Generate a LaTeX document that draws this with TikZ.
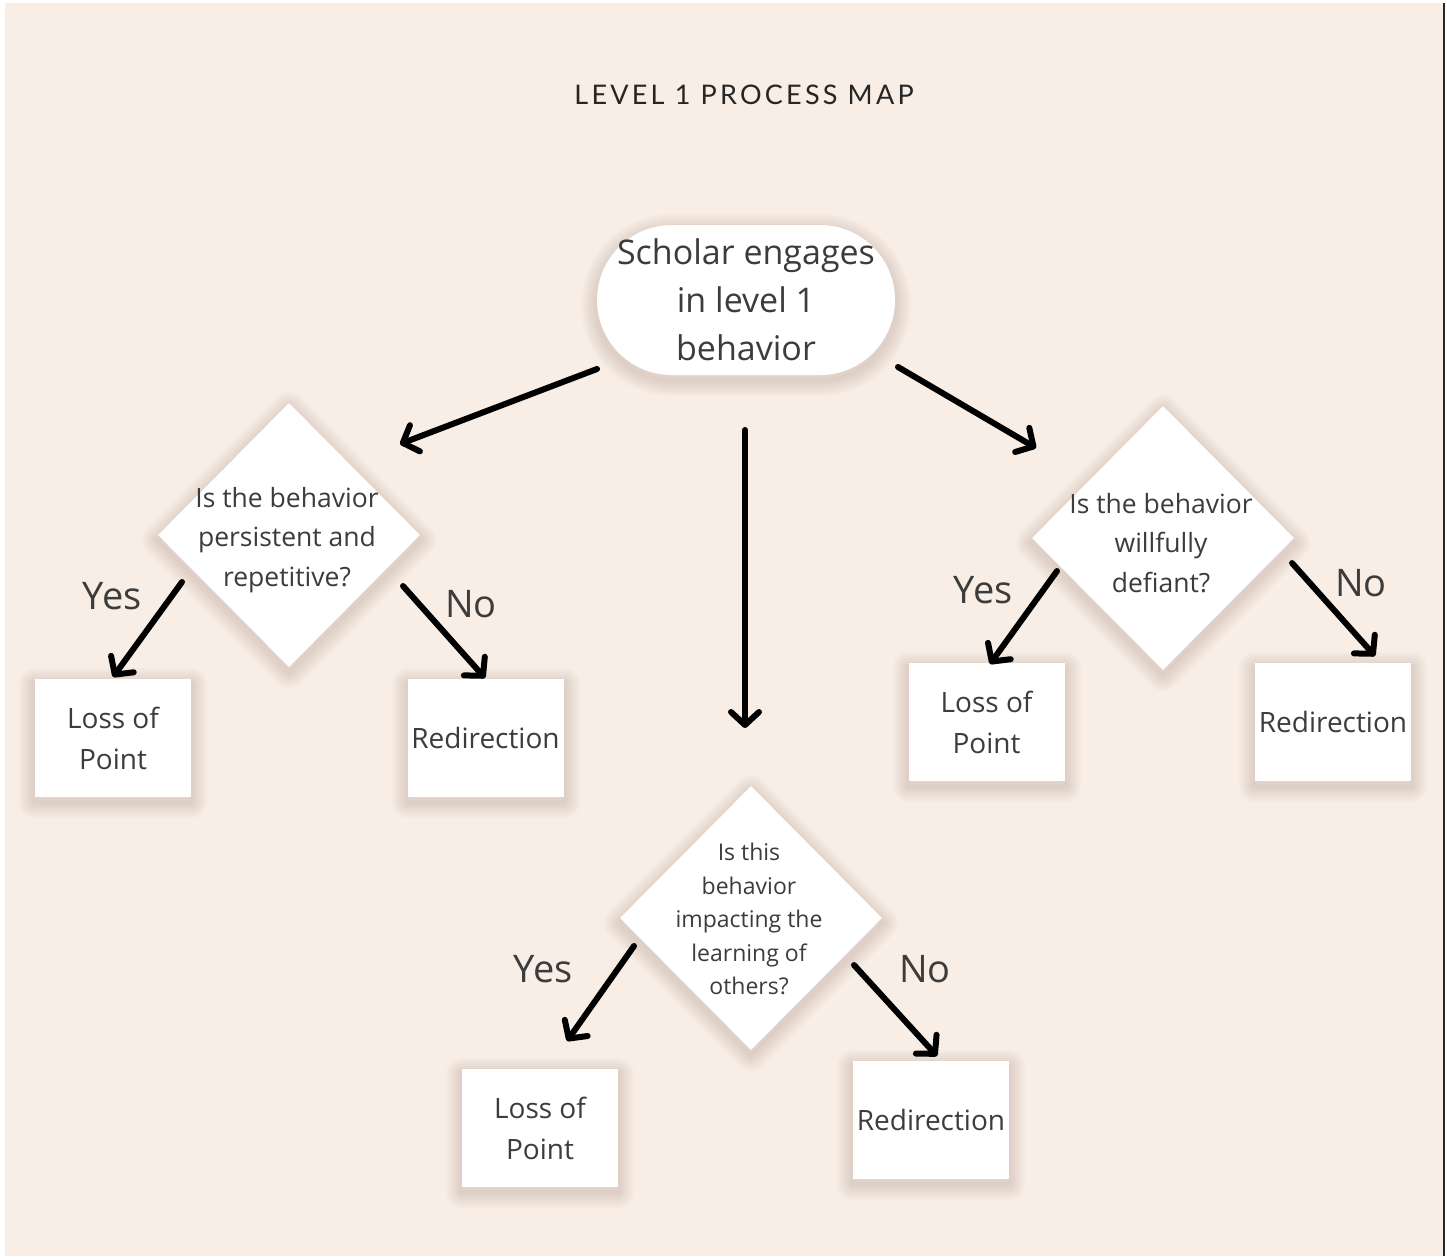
\documentclass[tikz,border=0pt]{standalone}
\usepackage{fontspec}
\setmainfont{Open Sans}
\newfontfamily\titlefont[LetterSpace=12]{Lato}
\usetikzlibrary{shapes.geometric,arrows.meta}
\definecolor{bgbeige}{HTML}{F8EEE5}
\definecolor{txt}{HTML}{3C3C3C}
\definecolor{shadc}{HTML}{5A4030}
\tikzset{
  sl/.style={preaction={draw=shadc,line join=round,line width=#1,draw opacity=0.02,transform canvas={yshift=-5pt}}},
  shad/.style={sl=32pt,sl=28pt,sl=24pt,sl=20pt,sl=16pt,sl=12pt,sl=8pt,sl=4pt},
  term/.style={shape=rectangle,rounded corners=75pt,fill=white,minimum width=298pt,minimum height=150pt,inner sep=0pt,shad,align=center,text=txt,font=\fontsize{34}{48}\selectfont},
  decis/.style={shape=diamond,fill=white,minimum width=262pt,minimum height=264pt,inner sep=0pt,shad},
  qtext/.style={align=center,text=txt,inner sep=0pt,font=\fontsize{26.5}{39.5}\selectfont},
  qtextsm/.style={align=center,text=txt,inner sep=0pt,font=\fontsize{23}{33.5}\selectfont},
  outbox/.style={shape=rectangle,fill=white,minimum width=156pt,minimum height=118pt,inner sep=0pt,shad,align=center,text=txt,font=\fontsize{28}{41}\selectfont},
  yn/.style={text=txt,inner sep=0pt,font=\fontsize{38}{44}\selectfont},
  arr/.style={line width=6pt,line cap=round,-{Straight Barb[length=13pt,width=28pt,line width=6pt,round]}},
}
\begin{document}
\begin{tikzpicture}[x=1pt,y=-1pt]
\useasboundingbox (0,0) rectangle (1447,1256);
\fill[white] (0,0) rectangle (1447,1256);
\fill[bgbeige] (5,3) rectangle (1443,1256);
\fill[black!85] (1443,3) rectangle (1445,1256);

\node[text=black!85,font=\titlefont\fontsize{27}{32}\selectfont] (title) at (744,95) {LEVEL 1 PROCESS MAP};

\node[term] (t) at (746,300) {Scholar engages\\in level 1\\behavior};

\node[decis] (q1) at (289,535) {};
\node[qtext] (q1t) at (287,540) {Is the behavior\\persistent and\\repetitive?};
\node[decis] (q3) at (1163,538) {};
\node[qtext] (q3t) at (1161,543) {Is the behavior\\willfully\\defiant?};
\node[decis] (q2) at (751,918) {};
\node[qtextsm] (q2t) at (749,919) {Is this\\behavior\\impacting the\\learning of\\others?};

\node[outbox] (b1) at (113,738) {Loss of\\Point};
\node[outbox] (b2) at (485.5,738) {Redirection};
\node[outbox] (b3) at (986.5,722) {Loss of\\Point};
\node[outbox] (b4) at (1333,722) {Redirection};
\node[outbox] (b5) at (540,1128) {Loss of\\Point};
\node[outbox] (b6) at (931,1120) {Redirection};

\node[yn] (y1) at (112,596) {Yes};
\node[yn] (n1) at (471,604) {No};
\node[yn] (y3) at (983,590) {Yes};
\node[yn] (n3) at (1361,583) {No};
\node[yn] (y2) at (543,969) {Yes};
\node[yn] (n2) at (925,969) {No};

% connector end points (arrows leave gaps around shapes)
\coordinate (tL) at (597,369);   \coordinate (q1in) at (400,444);
\coordinate (tR) at (898,367);   \coordinate (q3in) at (1036,448);
\coordinate (tB) at (745,430);   \coordinate (q2in) at (745,728);
\coordinate (q1y) at (182,582);  \coordinate (b1in) at (113,677);
\coordinate (q1n) at (403,586);  \coordinate (b2in) at (485,678);
\coordinate (q3y) at (1057,571); \coordinate (b3in) at (990,664);
\coordinate (q3n) at (1292,563); \coordinate (b4in) at (1375,656);
\coordinate (q2y) at (634,946);  \coordinate (b5in) at (567,1041);
\coordinate (q2n) at (854,965);  \coordinate (b6in) at (937,1056);

\draw[arr] (tL) -- (q1in);
\draw[arr] (tR) -- (q3in);
\draw[arr] (tB) -- (q2in);
\draw[arr] (q1y) -- (b1in);
\draw[arr] (q1n) -- (b2in);
\draw[arr] (q3y) -- (b3in);
\draw[arr] (q3n) -- (b4in);
\draw[arr] (q2y) -- (b5in);
\draw[arr] (q2n) -- (b6in);
\end{tikzpicture}
\end{document}
